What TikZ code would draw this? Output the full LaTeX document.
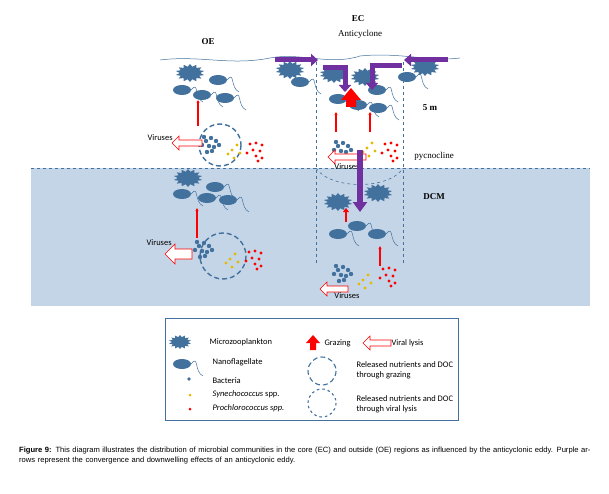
\documentclass[tikz,border=0pt]{standalone}
\usepackage{fontspec}
\setmainfont{Liberation Serif}
\newfontfamily\calibri{Carlito}
\newfontfamily\arial{Liberation Sans}
\usetikzlibrary{shapes.geometric, arrows.meta}

\definecolor{cellblue}{HTML}{41719C}
\definecolor{sea}{HTML}{C5D5E8}
\definecolor{eddy}{HTML}{7030A0}
\definecolor{synyel}{HTML}{E6B800}

\tikzset{
  mzoo/.style={star, star points=14, star point ratio=1.4, fill=cellblue,
    minimum size=18pt, inner sep=0pt, xscale=1.6},
  tail/.style={cellblue, line width=0.5pt},
  border/.style={cellblue, dashed, line width=0.6pt},
  halo/.style={cellblue, line width=1.4pt, dash pattern=on 5pt off 3pt},
  graze/.style={red, line width=1.2pt, -{Triangle[length=3pt,width=3pt]}},
  lysis/.style={draw=red, fill=white, line width=0.6pt},
  push/.style={eddy, line width=5pt, -{Triangle[length=7pt,width=12pt]}},
  lab/.style={font=\calibri\fontsize{8.5}{10}\selectfont},
}

% cell macros
\newcommand\nanoflag[2]{%
  \fill[cellblue] (#1,#2) ellipse (9 and 5);
  \draw[tail] (#1+9,#2) .. controls (#1+17,#2-10) and (#1+12,#2+8) .. (#1+21,#2+12);}
\newcommand\bact[2]{%
  \foreach \dx/\dy in {0/0,5/-3,10/0,-4/4,3/5,8/6,13/4,-2/-4,6/10,1/11}
    \fill[cellblue] (#1+\dx,#2+\dy) circle (2.2);}
\newcommand\syne[2]{%
  \foreach \dx/\dy in {0/0,5/-5,-4/4,8/3,2/8}
    \fill[synyel] (#1+\dx,#2+\dy) circle (1.6);}
\newcommand\prochl[2]{%
  \foreach \dx/\dy in {0/-6,6/-7,12/-5,3/0,10/1,-3/3,6/6,12/8,8/11}
    \fill[red] (#1+\dx,#2+\dy) circle (1.6);}
\newcommand\lysarrow[3]{% tip x, y, length
  \draw[lysis] (#1,#2) -- (#1+7,#2-7) -- (#1+7,#2-3) -- (#1+#3,#2-3)
    -- (#1+#3,#2+3) -- (#1+7,#2+3) -- (#1+7,#2+7) -- cycle;}

\begin{document}
\begin{tikzpicture}[x=1pt, y=-1pt]
  \useasboundingbox (0,0) rectangle (609,494);
  \fill[white] (0,0) rectangle (609,494);

  % sea below the pycnocline
  \fill[sea] (31,168) rectangle (590,306);
  \draw[border] (31,168) -- (590,168);

  % eddy core
  \draw[border] (316,62) -- (316,265);
  \draw[border] (403,62) -- (403,265);
  \draw[border] (316,168) .. controls (330,190) and (390,190) .. (403,168);

  % surface
  \draw[tail] (160,60) .. controls (200,55) and (230,66) .. (270,58)
    .. controls (300,52) and (330,66) .. (360,56)
    .. controls (400,52) and (430,62) .. (460,58);

  % labels
  \node[font=\bfseries\small] (oe) at (208,42) {OE};
  \node[font=\bfseries\small] (ec) at (358,19) {EC};
  \node[font=\small] (anti) at (360,34) {Anticyclone};
  \node[font=\bfseries\small] (five) at (430,108) {5 m};
  \node[font=\small] (pyc) at (434,156) {pycnocline};
  \node[font=\bfseries\small] (dcm) at (434,197) {DCM};

  % OE surface layer
  \node[mzoo] (m1) at (190,73) {};
  \nanoflag{218}{80} \nanoflag{182}{90} \nanoflag{202}{95} \nanoflag{225}{98}
  \draw[graze] (198,126) -- (198,100);
  \draw[halo] (220,145) circle (21);
  \bact{206}{141} \syne{232}{150} \prochl{250}{150}
  \lysarrow{172}{143}{30}
  \node[lab, anchor=west] (v1) at (144,138) {Viruses};

  % EC surface layer
  \node[mzoo] (m2) at (290,70) {};
  \nanoflag{300}{82}
  \node[mzoo] (m3) at (334,74) {};
  \node[mzoo] (m4) at (365,77) {};
  \node[mzoo] (m5) at (425,67) {};
  \nanoflag{407}{77}
  \nanoflag{377}{90} \nanoflag{338}{99} \nanoflag{358}{105} \nanoflag{378}{108}
  \draw[graze] (336,132) -- (336,112);
  \draw[graze] (370,132) -- (370,112);
  \bact{338}{146} \syne{367}{148} \prochl{385}{150}
  \lysarrow{328}{157}{38}
  \node[lab] (v2) at (347,167) {Viruses};

  % convergence and downwelling
  \draw[push] (275,60) -- (318,60);
  \draw[push] (448,60) -- (404,60);
  \draw[push] (323,68) -- (345,68) -- (345,92);
  \draw[push] (402,66) -- (372,66) -- (372,90);
  \fill[red] (341,100) -- (351,88) -- (361,100) -- (356,100) -- (356,107)
    -- (346,107) -- (346,100) -- cycle;
  \draw[eddy, line width=6pt, -{Triangle[length=10pt,width=14pt]}]
    (360,150) -- (360,212);

  % OE DCM layer
  \node[mzoo] (m6) at (188,178) {};
  \nanoflag{215}{187} \nanoflag{182}{194} \nanoflag{207}{198} \nanoflag{228}{200}
  \draw[graze] (197,238) -- (197,208);
  \draw[halo] (223,256) circle (23);
  \bact{199}{246} \syne{230}{259} \prochl{249}{258}
  \draw[lysis] (165,254) -- (175,244) -- (175,249) -- (192,249) -- (192,259)
    -- (175,259) -- (175,264) -- cycle;
  \node[lab, anchor=west] (v3) at (143,243) {Viruses};

  % EC DCM layer
  \node[mzoo] (m7) at (338,202) {};
  \node[mzoo] (m8) at (378,193) {};
  \draw[red, line width=2.5pt, -{Triangle[length=4pt,width=6pt]}] (346,222) -- (346,208);
  \nanoflag{357}{226} \nanoflag{338}{234} \nanoflag{377}{234}
  \draw[graze] (380,266) -- (380,246);
  \bact{338}{270} \syne{363}{280} \prochl{383}{275}
  \lysarrow{320}{289}{28}
  \node[lab] (v4) at (347,296) {Viruses};

  % legend
  \draw[cellblue, line width=0.8pt] (165,318) rectangle (458,420);
  \node[mzoo, minimum size=14pt] (lm) at (180,342) {};
  \node[lab, anchor=west] (lmt) at (206,342) {Microzooplankton};
  \nanoflag{182}{364}
  \node[lab, anchor=west] (lnt) at (209,362) {Nanoflagellate};
  \fill[cellblue] (189,379) circle (1.8);
  \node[lab, anchor=west] (lbt) at (209,381) {Bacteria};
  \fill[synyel] (190,395) circle (1.5);
  \node[lab, anchor=west] (lst) at (209,394) {\itshape Synechococcus\upshape\ spp.};
  \fill[red] (190,409) circle (1.5);
  \node[lab, anchor=west] (lpt) at (209,408) {\itshape Prochlorococcus spp.};
  \fill[red] (313,335) -- (320,343) -- (316,343) -- (316,350) -- (310,350)
    -- (310,343) -- (306,343) -- cycle;
  \node[lab, anchor=west] (lgt) at (321,343) {Grazing};
  \lysarrow{363}{343}{28}
  \node[lab, anchor=west] (llt) at (388,343) {Viral lysis};
  \draw[halo, line width=1.1pt] (322,371) circle (14);
  \node[lab, anchor=west, align=left] (lr1) at (353,370) {Released nutrients and DOC\\through grazing};
  \draw[halo, line width=1.1pt, dash pattern=on 2.5pt off 3pt] (322,403) circle (14);
  \node[lab, anchor=west, align=left] (lr2) at (353,404) {Released nutrients and DOC\\through viral lysis};

  % caption
  \node[anchor=north west, text width=575pt, align=left,
    font=\arial\fontsize{7.6}{9.5}\selectfont, inner sep=0pt] (cap) at (19,447)
    {\textbf{Figure 9:} This diagram illustrates the distribution of microbial communities in the core (EC) and outside (OE) regions as influenced by the anticyclonic eddy. Purple arrows represent the convergence and downwelling effects of an anticyclonic eddy.};
\end{tikzpicture}
\end{document}
